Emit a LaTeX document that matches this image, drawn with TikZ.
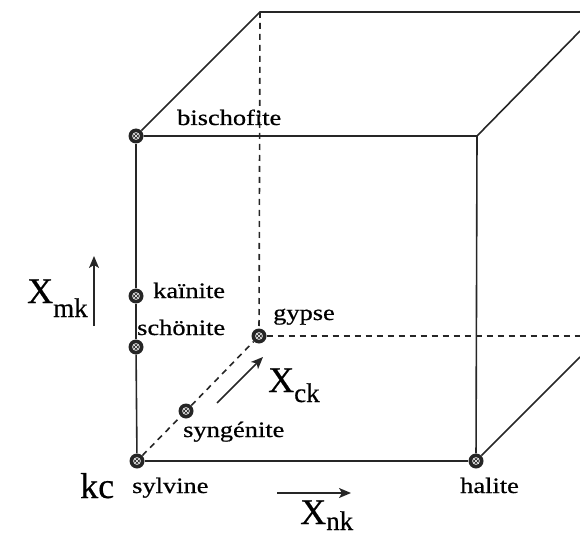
\documentclass[tikz,border=0pt]{standalone}
\usepackage{fontspec}
\setmainfont{Liberation Serif}
\newfontfamily\lblfont[FakeStretch=1.2,FakeBold=0.6]{Liberation Serif}
\newfontfamily\bigfont[FakeBold=0.5]{Liberation Serif}
\usetikzlibrary{arrows.meta}
\tikzset{
  edge/.style={line width=1.6pt, draw=black!85},
  hidden/.style={edge, dash pattern=on 6pt off 5pt},
  axisarrow/.style={line width=1.5pt, draw=black!85, -{Stealth[length=12pt,width=10pt,inset=3pt]}},
  mineral/.style={circle, fill=black!85, minimum size=15pt, inner sep=0pt,
    path picture={\begin{scope}[shift={(path picture bounding box.center)}]
      \draw[white, line width=0.7pt] (0,0) circle (3.4pt);
      \draw[white, line width=0.6pt] (-2.3pt,-2.3pt)--(2.3pt,2.3pt) (-2.3pt,2.3pt)--(2.3pt,-2.3pt);
    \end{scope}}},
  lbl/.style={font=\lblfont\fontsize{22}{24}\selectfont, inner sep=0pt, anchor=base west},
  biglbl/.style={font=\bigfont\fontsize{36}{38}\selectfont, inner sep=0pt, anchor=base west}
}
\newcommand{\subx}[2]{X\raisebox{-#1pt}{\fontsize{27}{27}\selectfont #2}}
\begin{document}
\begin{tikzpicture}[x=1pt,y=-1pt]
\useasboundingbox (0,0) rectangle (580,537);
\clip (0,0) rectangle (580,537);
% cube corners and edge ends
\coordinate (ftr) at (477,136);
\coordinate (btl) at (260,12);
\coordinate (r1) at (580,12);
\coordinate (r2) at (580,31);
\coordinate (r3) at (580,357);
\coordinate (r4) at (580,336);
% minerals
\node[mineral] (bis) at (136,136) {};
\node[mineral] (kai) at (136,296) {};
\node[mineral] (sch) at (136,347) {};
\node[mineral] (syl) at (137,461) {};
\node[mineral] (hal) at (476,461) {};
\node[mineral] (gyp) at (259,336) {};
\node[mineral] (syn) at (186,411) {};
% solid edges
\draw[edge] (bis) -- (ftr) -- (hal);
\draw[edge] (hal) -- (syl);
\draw[edge] (syl) -- (sch);
\draw[edge] (sch) -- (kai);
\draw[edge] (kai) -- (bis);
\draw[edge] (bis) -- (btl) -- (r1);
\draw[edge] (ftr) -- (r2);
\draw[edge] (hal) -- (r3);
% hidden edges
\draw[hidden] (btl) -- (gyp);
\draw[hidden] (gyp) -- (r4);
\draw[hidden] (syl) -- (syn);
\draw[hidden] (syn) -- (gyp);
% labels
\node[lbl] (tbis) at (177,125) {bischofite};
\node[lbl] (tkai) at (153,298) {kaïnite};
\node[lbl] (tsch) at (137,335) {schönite};
\node[lbl] (tgyp) at (273,320) {gypse};
\node[lbl] (tsyn) at (183,437) {syngénite};
\node[lbl] (tsyl) at (132,493) {sylvine};
\node[lbl] (thal) at (460,493) {halite};
\node[biglbl] (tkc) at (80,498) {kc};
% axes
\node[biglbl] (xmk) at (27,303) {\subx{14}{mk}};
\node[biglbl] (xck) at (268,392) {\subx{10}{ck}};
\node[biglbl] (xnk) at (300,524) {\subx{6}{nk}};
\coordinate (amk0) at (94,326);
\coordinate (amk1) at (94,256);
\coordinate (ack0) at (217,403);
\coordinate (ack1) at (263,357);
\coordinate (ank0) at (277,493);
\coordinate (ank1) at (351,493);
\draw[axisarrow] (amk0) -- (amk1);
\draw[axisarrow] (ack0) -- (ack1);
\draw[axisarrow] (ank0) -- (ank1);
\end{tikzpicture}
\end{document}
